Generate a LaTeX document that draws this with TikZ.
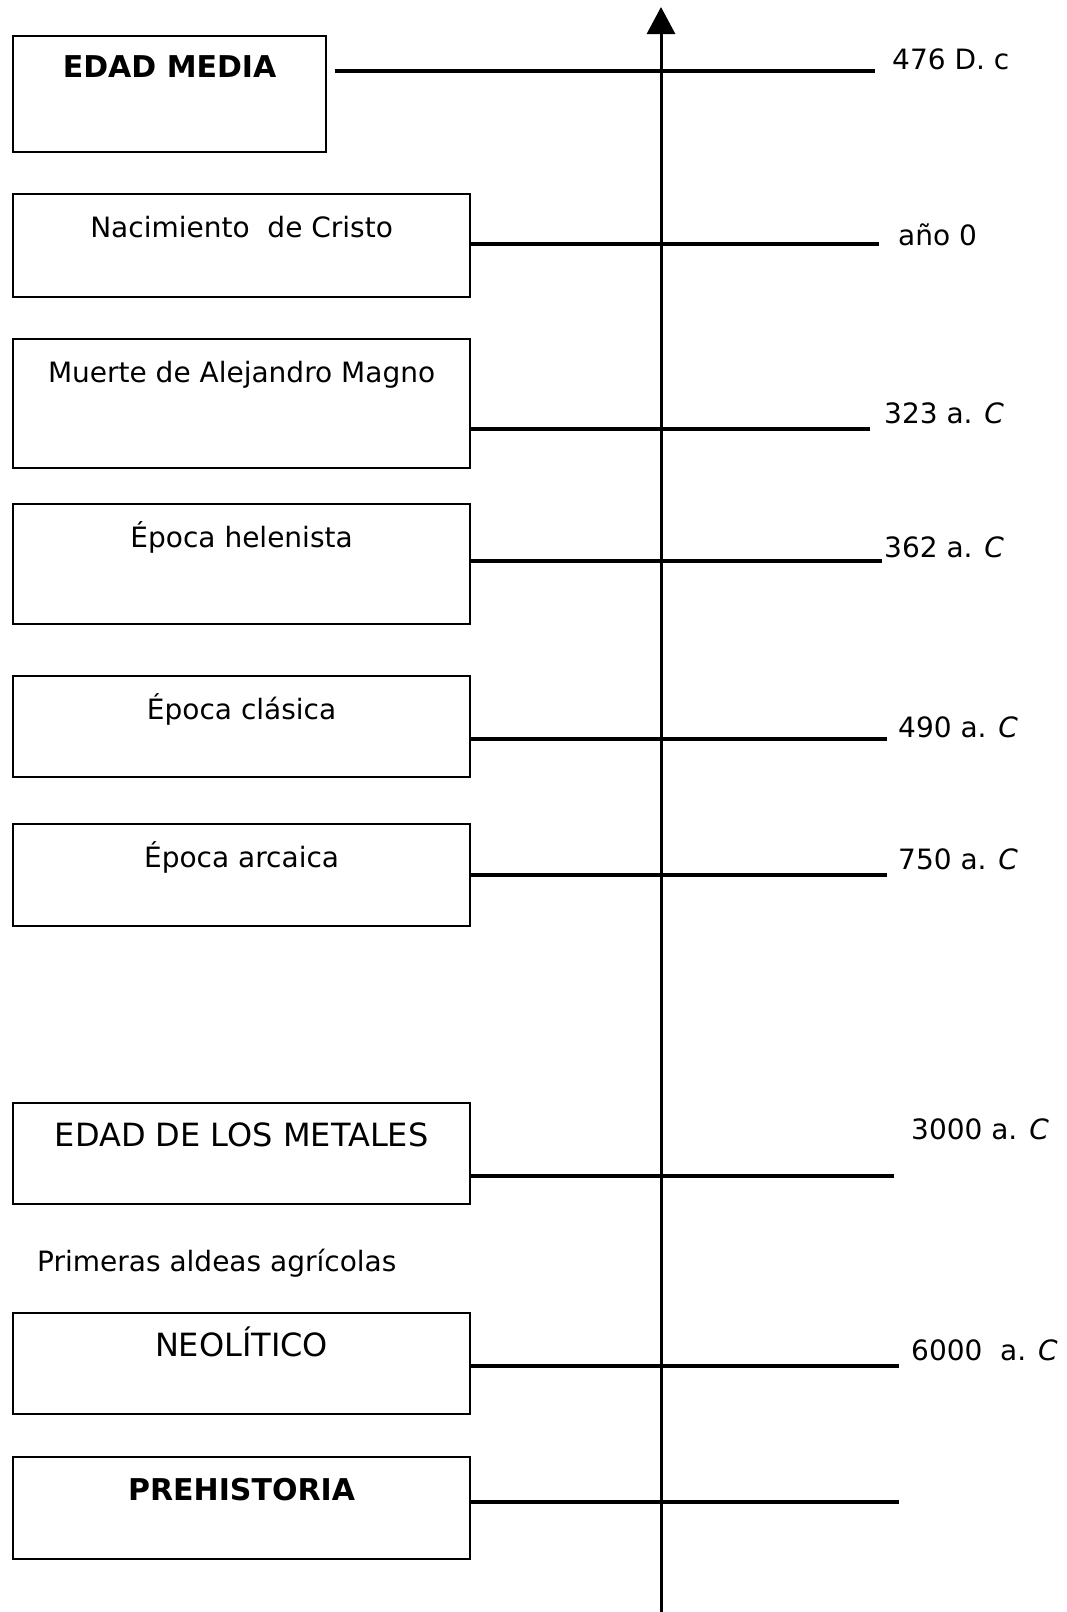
\documentclass[tikz,border=0pt]{standalone}
\usepackage{fontspec}
\setmainfont{DejaVu Sans}
\usetikzlibrary{arrows.meta}

\newcommand\grande{\fontsize{32}{38}\selectfont}
\newcommand\negrita{\fontsize{30}{36}\selectfont\bfseries}

\tikzset{
  caja/.style={draw,line width=2.2pt,minimum width=457pt,anchor=north west,inner sep=0pt},
  titulo/.style={font=\fontsize{28}{34}\selectfont,text height=21pt,text depth=6pt,inner sep=0pt},
  fecha/.style={font=\fontsize{28}{34}\selectfont,anchor=base west,inner sep=0pt},
  raya/.style={line width=3.2pt,black},
}

\begin{document}
\begin{tikzpicture}[x=1pt,y=-1pt]
\useasboundingbox (0,0) rectangle (1066,1612);
% eje
\coordinate (base) at (661,1612);
\coordinate (tope) at (661,7);
\draw[line width=3pt,-{Triangle[width=28pt,length=27pt]}] (base) -- (tope);

% edad media
\node[caja,minimum width=313pt,minimum height=116pt] (media) at (12,35) {};
\node[titulo] (tmedia) at ([yshift=-35pt]media.north) {\negrita EDAD MEDIA};
\coordinate (imedia) at (335,71);
\coordinate (fmedia) at (875,71);
\draw[raya] (imedia) -- (fmedia);
\node[fecha] (dmedia) at (892,69) {476 D. c};

% resto de cajas
\foreach \n/\top/\alto/\ly/\le/\fx/\fy/\txt/\fecha in {
  cristo/193/103/244/879/898/245/{Nacimiento\ \ de Cristo}/{año 0},
  magno/338/129/429/870/884/423/{Muerte de Alejandro Magno}/{323 a. \textit{C}},
  helen/503/120/561/882/884/557/{Época helenista}/{362 a. \textit{C}},
  clasica/675/101/739/887/898/737/{Época clásica}/{490 a. \textit{C}},
  arcaica/823/102/875/887/898/869/{Época arcaica}/{750 a. \textit{C}},
  metales/1102/101/1176/894/911/1139/{\grande EDAD DE LOS METALES}/{3000 a. \textit{C}},
  neolit/1312/101/1366/899/911/1360/{\grande NEOLÍTICO}/{6000\ \ a. \textit{C}},
  prehist/1456/102/1502/899/911/1502/{\negrita PREHISTORIA}/{}
}{
  \node[caja,minimum height=\alto pt] (\n) at (12,\top) {};
  \node[titulo] (t\n) at ([yshift=-37pt]\n.north) {\txt};
  \coordinate (f\n) at (\le,\ly);
  \draw[raya] (\n.east |- f\n) -- (f\n);
  \node[fecha] (d\n) at (\fx,\fy) {\fecha};
}

\node[titulo,anchor=west] (aldeas) at (37,1264) {Primeras aldeas agrícolas};
\end{tikzpicture}
\end{document}
